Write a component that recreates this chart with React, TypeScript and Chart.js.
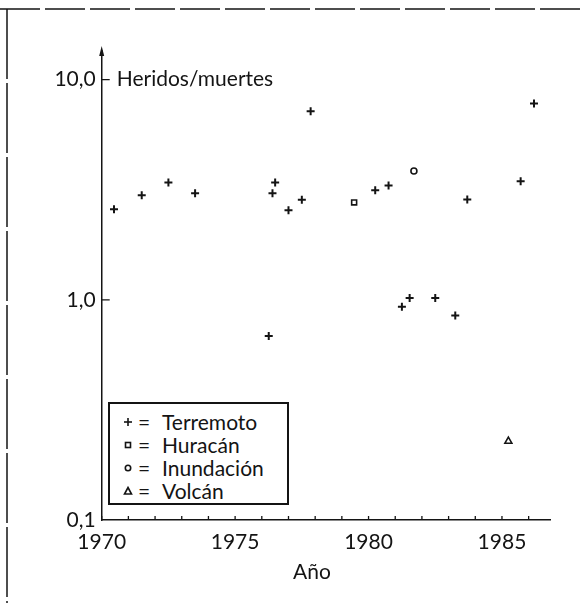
import React, { useEffect, useRef } from 'react';
import { Chart, registerables } from 'chart.js';

Chart.register(...registerables);

// ---- data ----
const terremotoYears = [1970.46, 1971.5, 1972.5, 1973.5, 1976.26, 1976.4, 1976.5, 1977.0, 1977.5, 1977.83, 1980.25, 1980.75, 1981.25, 1981.54, 1982.5, 1983.25, 1983.7, 1985.7, 1986.2];
const terremotoValues = [2.58, 2.99, 3.41, 3.05, 0.685, 3.05, 3.41, 2.55, 2.85, 7.19, 3.15, 3.31, 0.93, 1.02, 1.02, 0.85, 2.86, 3.46, 7.8];
const huracanYears = [1979.46];
const huracanValues = [2.77];
const inundacionYears = [1981.7];
const inundacionValues = [3.85];
const volcanYears = [1985.24];
const volcanValues = [0.228];

const xTickYears = [1970, 1975, 1980, 1985];
const xMinorYears = [1970, 1971, 1972, 1973, 1974, 1975, 1976, 1977, 1978, 1979, 1980, 1981, 1982, 1983, 1984, 1985, 1986];
const yTickValues = [0.1, 1, 10];
const yTickLabels = ['0,1', '1,0', '10,0'];
const yInnerTickValues = [1, 10];

const legendNames = ['Terremoto', 'Huracán', 'Inundación', 'Volcán'];
const yLabelText = 'Heridos/muertes';
const xLabelText = 'Año';

const INK = '#141414';
const FONT = 'Lato, "DejaVu Sans", sans-serif';

const toPoints = (xs: number[], ys: number[]) => xs.map((x, i) => ({ x, y: ys[i] }));

const axisDecor = {
  id: 'axisDecor',
  afterDraw(chart: any) {
    const { ctx, scales, chartArea } = chart;
    const x = scales.x;
    const y = scales.y;
    ctx.save();
    ctx.strokeStyle = INK;
    ctx.fillStyle = INK;
    ctx.lineWidth = 1.3;
    ctx.beginPath();
    for (const yr of xMinorYears) {
      const px = x.getPixelForValue(yr);
      ctx.moveTo(px, chartArea.bottom);
      ctx.lineTo(px, chartArea.bottom - 4);
    }
    for (const v of yInnerTickValues) {
      const py = y.getPixelForValue(v);
      ctx.moveTo(chartArea.left, py);
      ctx.lineTo(chartArea.left + 8, py);
    }
    ctx.stroke();
    // arrow at top of y axis
    ctx.beginPath();
    ctx.moveTo(chartArea.left, chartArea.top - 5);
    ctx.lineTo(chartArea.left - 2.5, chartArea.top + 5);
    ctx.lineTo(chartArea.left + 2.5, chartArea.top + 5);
    ctx.closePath();
    ctx.fill();
    // y-axis caption next to the 10,0 tick
    ctx.font = `21px ${FONT}`;
    ctx.textBaseline = 'middle';
    ctx.textAlign = 'left';
    ctx.fillText(yLabelText, chartArea.left + 15, y.getPixelForValue(10));
    // x-axis caption
    ctx.textAlign = 'center';
    ctx.fillText(xLabelText, 312, 572);
    ctx.restore();
  },
};

function LegendSymbol({ kind }: { kind: number }) {
  const s = { stroke: INK, strokeWidth: 1.6, fill: 'none' } as any;
  return (
    <svg width={10} height={10} style={{ display: 'block' }}>
      {kind === 0 && (
        <g {...s}>
          <line x1={5} y1={1} x2={5} y2={9} />
          <line x1={1} y1={5} x2={9} y2={5} />
        </g>
      )}
      {kind === 1 && <rect x={2.5} y={2.5} width={5} height={5} {...s} />}
      {kind === 2 && <circle cx={5} cy={5} r={2.7} {...s} />}
      {kind === 3 && <polygon points="5,1.5 8.5,8 1.5,8" {...s} />}
    </svg>
  );
}

export default function App() {
  const canvasRef = useRef<HTMLCanvasElement | null>(null);

  useEffect(() => {
    const canvas = canvasRef.current;
    if (!canvas) return;
    const font = { family: FONT, size: 21 };
    const chart = new Chart(canvas, {
      type: 'scatter',
      data: {
        datasets: [
          {
            label: legendNames[0],
            data: toPoints(terremotoYears, terremotoValues),
            pointStyle: 'cross',
            pointRadius: 4,
            borderColor: INK,
            backgroundColor: INK,
            borderWidth: 2,
          },
          {
            label: legendNames[1],
            data: toPoints(huracanYears, huracanValues),
            pointStyle: 'rect',
            pointRadius: 3.5,
            borderColor: INK,
            backgroundColor: 'rgba(0,0,0,0)',
            borderWidth: 1.6,
          },
          {
            label: legendNames[2],
            data: toPoints(inundacionYears, inundacionValues),
            pointStyle: 'circle',
            pointRadius: 3,
            borderColor: INK,
            backgroundColor: 'rgba(0,0,0,0)',
            borderWidth: 1.6,
          },
          {
            label: legendNames[3],
            data: toPoints(volcanYears, volcanValues),
            pointStyle: 'triangle',
            pointRadius: 4,
            borderColor: INK,
            backgroundColor: 'rgba(0,0,0,0)',
            borderWidth: 1.6,
          },
        ],
      },
      options: {
        animation: false,
        responsive: false,
        maintainAspectRatio: false,
        layout: { padding: { left: 0, right: 30, top: 51, bottom: 0 } },
        plugins: { legend: { display: false }, tooltip: { enabled: false } },
        scales: {
          x: {
            type: 'linear',
            min: 1970,
            max: 1986.8,
            border: { display: true, color: INK, width: 1.5 },
            grid: { display: false, drawTicks: false },
            afterBuildTicks: (s: any) => {
              s.ticks = xTickYears.map((v) => ({ value: v }));
            },
            ticks: {
              autoSkip: false,
              maxRotation: 0,
              padding: 10,
              color: INK,
              font,
              callback: (v: any) => String(v),
            },
            title: { display: false },
            afterFit: (s: any) => {
              s.height = 83;
            },
          },
          y: {
            type: 'logarithmic',
            min: 0.1,
            max: 13.5,
            border: { display: true, color: INK, width: 1.5 },
            grid: { display: false, drawTicks: false },
            afterBuildTicks: (s: any) => {
              s.ticks = yTickValues.map((v) => ({ value: v }));
            },
            ticks: {
              autoSkip: false,
              padding: 6,
              color: INK,
              font,
              callback: (v: any) => {
                const i = yTickValues.findIndex((t) => Math.abs(t - v) < 1e-9);
                return i >= 0 ? yTickLabels[i] : '';
              },
            },
            afterFit: (s: any) => {
              s.width = 101.7;
            },
          },
        },
      } as any,
      plugins: [axisDecor],
    });
    return () => chart.destroy();
  }, []);

  return (
    <div style={{ position: 'fixed', left: 0, top: 0, width: 580, height: 603, background: '#fff', overflow: 'hidden' }}>
      <canvas ref={canvasRef} width={580} height={603} style={{ position: 'absolute', left: 0, top: 0 }} />
      <svg width={580} height={603} style={{ position: 'absolute', left: 0, top: 0, pointerEvents: 'none' }}>
        <line x1={0} y1={9} x2={580} y2={9} stroke={INK} strokeWidth={1.5} strokeDasharray="40 5" />
        <line x1={7} y1={9} x2={7} y2={603} stroke={INK} strokeWidth={1.5} strokeDasharray="70 4" />
      </svg>
      <div
        style={{
          position: 'absolute',
          left: 108,
          top: 402,
          width: 181,
          height: 103,
          boxSizing: 'border-box',
          border: `2px solid ${INK}`,
          background: '#fff',
          fontFamily: FONT,
          fontSize: 21,
          color: INK,
          paddingTop: 6,
        }}
      >
        {legendNames.map((name, i) => (
          <div key={name} style={{ display: 'flex', alignItems: 'center', height: 23, lineHeight: '23px' }}>
            <div style={{ width: 15, marginLeft: 13 }}>
              <LegendSymbol kind={i} />
            </div>
            <span style={{ width: 24 }}>=</span>
            <span>{name}</span>
          </div>
        ))}
      </div>
    </div>
  );
}
